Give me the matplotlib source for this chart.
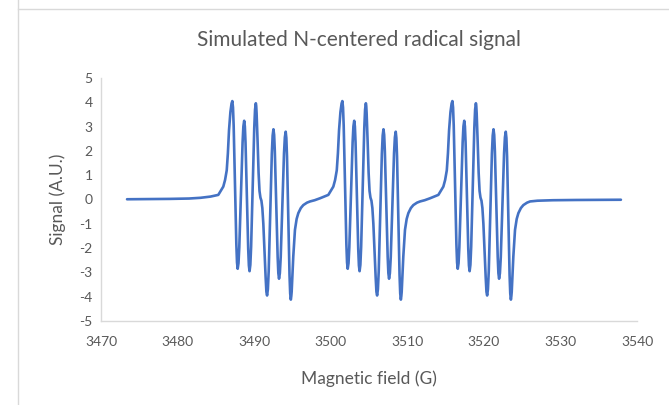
import matplotlib
matplotlib.use("Agg")
import matplotlib.pyplot as plt
from matplotlib.lines import Line2D

# ---------------- data ----------------
# field position (G) of the first (low-field) peak of each nitrogen group
group_first_peak = [3487.15, 3501.52, 3515.89]

# shape of one group: field offset from its first peak (G) and signal (A.U.)
profile_offset = [-1.83, -1.18, -0.95, -0.73, -0.58, -0.43, -0.25, -0.10, 0.00,
                  0.0875, 0.175, 0.35, 0.525, 0.6125, 0.70,
                  0.806, 0.91, 1.125, 1.34, 1.444, 1.55,
                  1.6375, 1.725, 1.90, 2.075, 2.1625, 2.25,
                  2.3525, 2.455, 2.66, 2.865, 2.9675, 3.07,
                  3.12, 3.17, 3.30, 3.43, 3.55, 3.67, 3.80, 3.92, 4.05, 4.20, 4.35, 4.45, 4.54,
                  4.644, 4.75, 4.955, 5.16, 5.266, 5.37,
                  5.461, 5.55, 5.735, 5.92, 6.009, 6.10,
                  6.209, 6.32, 6.535, 6.75, 6.861, 6.97,
                  7.054, 7.14, 7.305, 7.47, 7.556, 7.64,
                  7.70, 7.75, 7.85, 7.96, 8.18, 8.40, 8.62, 8.95, 9.27, 9.75, 10.15]
profile_signal = [0.19, 0.53, 0.80, 1.20, 1.90, 2.86, 3.60, 3.95, 4.05,
                  3.79, 3.04, 0.60, -1.84, -2.59, -2.85,
                  -2.62, -1.96, 0.195, 2.35, 3.01, 3.24,
                  3.005, 2.33, 0.145, -2.04, -2.715, -2.95,
                  -2.69, -1.94, 0.505, 2.95, 3.70, 3.96,
                  3.85, 3.55, 2.40, 1.10, 0.35, 0.08, -0.05, -0.35, -1.00, -2.10, -3.20, -3.80, -3.95,
                  -3.69, -2.95, -0.53, 1.89, 2.63, 2.89,
                  2.66, 1.99, -0.185, -2.36, -3.03, -3.26,
                  -3.03, -2.37, -0.235, 1.90, 2.56, 2.79,
                  2.53, 1.78, -0.665, -3.11, -3.86, -4.12,
                  -3.98, -3.80, -3.10, -2.35, -1.25, -0.80, -0.56, -0.35, -0.23, -0.13, -0.08]

# baseline before the first group
lead_field = [3473.4, 3476.0, 3479.0, 3481.5, 3483.0, 3484.3]
lead_signal = [0.01, 0.015, 0.025, 0.04, 0.07, 0.12]
# baseline between groups (offset from the first peak of the preceding group)
gap_offset = [10.75, 11.45]
gap_signal = [-0.03, 0.05]
# baseline after the last group
tail_field = [3527.0, 3529.0, 3532.0, 3537.9]
tail_signal = [-0.05, -0.03, -0.02, -0.01]

x_ticks = [3470, 3480, 3490, 3500, 3510, 3520, 3530, 3540]
y_ticks = [-5, -4, -3, -2, -1, 0, 1, 2, 3, 4, 5]

title = "Simulated N-centered radical signal"
x_label = "Magnetic field (G)"
y_label = "Signal (A.U.)"

# ---------------- assemble the series ----------------
field = list(lead_field)
signal = list(lead_signal)
for i, p in enumerate(group_first_peak):
    field += [p + o for o in profile_offset]
    signal += list(profile_signal)
    if i < len(group_first_peak) - 1:
        field += [p + o for o in gap_offset]
        signal += list(gap_signal)
field += tail_field
signal += tail_signal

# ---------------- drawing ----------------
plt.rcParams['font.family'] = ['Lato', 'DejaVu Sans']
plt.rcParams['axes.unicode_minus'] = False
text_col = '#595959'
grid_col = '#d9d9d9'

fig = plt.figure(figsize=(6.69, 4.05), dpi=100)
fig.patch.set_facecolor('white')

# outer chart frame lines
W, H = 669.0, 405.0
fig.add_artist(Line2D([18 / W, 18 / W], [0, 1], transform=fig.transFigure,
                      color=grid_col, lw=1.0))
fig.add_artist(Line2D([18 / W, 1], [1 - 8.5 / H, 1 - 8.5 / H], transform=fig.transFigure,
                      color=grid_col, lw=1.0))

ax = fig.add_axes([101 / W, 1 - 321 / H, (637 - 101) / W, (321 - 78) / H])
ax.plot(field, signal, color='#4472C4', lw=1.9, solid_joinstyle='round',
        solid_capstyle='round')

ax.set_xlim(3470, 3540)
ax.set_ylim(-5, 5)
ax.set_xticks(x_ticks)
ax.set_yticks(y_ticks)
ax.tick_params(axis='both', length=0, labelsize=10, colors=text_col)
ax.tick_params(axis='x', pad=11)
ax.tick_params(axis='y', pad=6)

for s in ['top', 'right']:
    ax.spines[s].set_visible(False)
for s in ['left', 'bottom']:
    ax.spines[s].set_color(grid_col)
    ax.spines[s].set_linewidth(1.0)

ax.set_xlabel(x_label, fontsize=12.5, color=text_col, labelpad=16)
ax.set_ylabel(y_label, fontsize=12.5, color=text_col, labelpad=10)

fig.text(359 / W, 1 - 40 / H, title, ha='center', va='center',
         fontsize=15, color=text_col)

fig.savefig('out.png', dpi=100, facecolor='white')
